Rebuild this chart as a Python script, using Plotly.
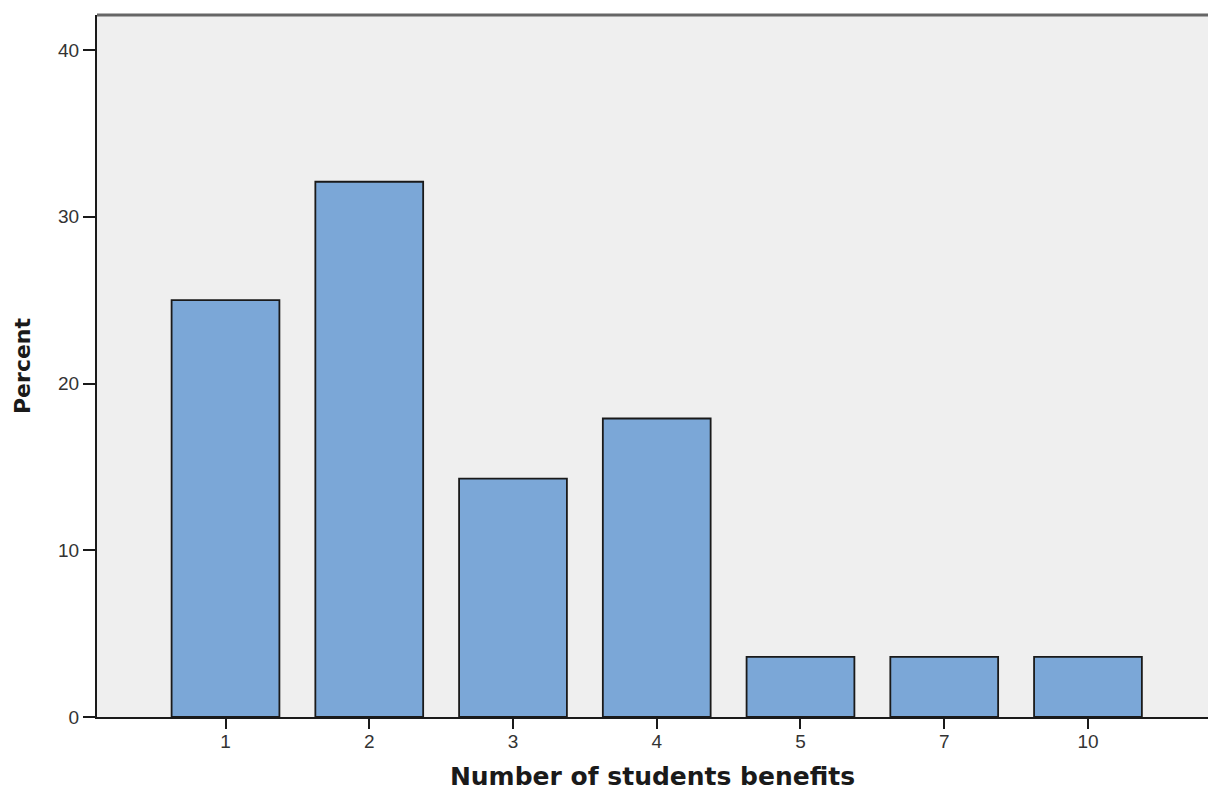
import plotly.graph_objects as go

categories = ["1", "2", "3", "4", "5", "7", "10"]
percent = [25.0, 32.1, 14.3, 17.9, 3.6, 3.6, 3.6]
y_ticks = [0, 10, 20, 30, 40]

fig = go.Figure(
    go.Bar(
        x=categories,
        y=percent,
        width=0.75,
        marker=dict(color="#7BA7D7", line=dict(color="#1a1a1a", width=1.8)),
    )
)

fam = "DejaVu Sans, Verdana, sans-serif"

fig.update_layout(
    width=1208,
    height=794,
    margin=dict(l=97, r=0, t=15, b=77),
    paper_bgcolor="white",
    plot_bgcolor="#EFEFEF",
    font=dict(family="Liberation Sans, Arial, sans-serif", color="#333333", size=19),
    showlegend=False,
    shapes=[
        dict(type="line", xref="paper", yref="paper", x0=0, x1=1, y0=1, y1=1,
             line=dict(color="#666666", width=3)),
    ],
)

fig.update_xaxes(
    type="category",
    range=[-0.894, 6.835],
    showgrid=False,
    showline=True,
    linecolor="#1a1a1a",
    linewidth=2,
    ticks="outside",
    ticklen=10,
    tickwidth=2,
    tickcolor="#1a1a1a",
    ticklabelstandoff=-4,
    title=dict(text="<b>Number of students benefits</b>",
               font=dict(family=fam, size=25, color="#1a1a1a"), standoff=17),
)

fig.update_yaxes(
    range=[0, 42.1],
    tickvals=y_ticks,
    showgrid=False,
    zeroline=False,
    showline=True,
    linecolor="#1a1a1a",
    linewidth=2,
    ticks="outside",
    ticklen=12,
    tickwidth=2,
    tickcolor="#1a1a1a",
    title=dict(text="<b>Percent</b>",
               font=dict(family=fam, size=22, color="#1a1a1a"), standoff=21),
)

fig.write_html("out.html", config={"displayModeBar": False},
               post_script="document.body.style.margin='0';")
